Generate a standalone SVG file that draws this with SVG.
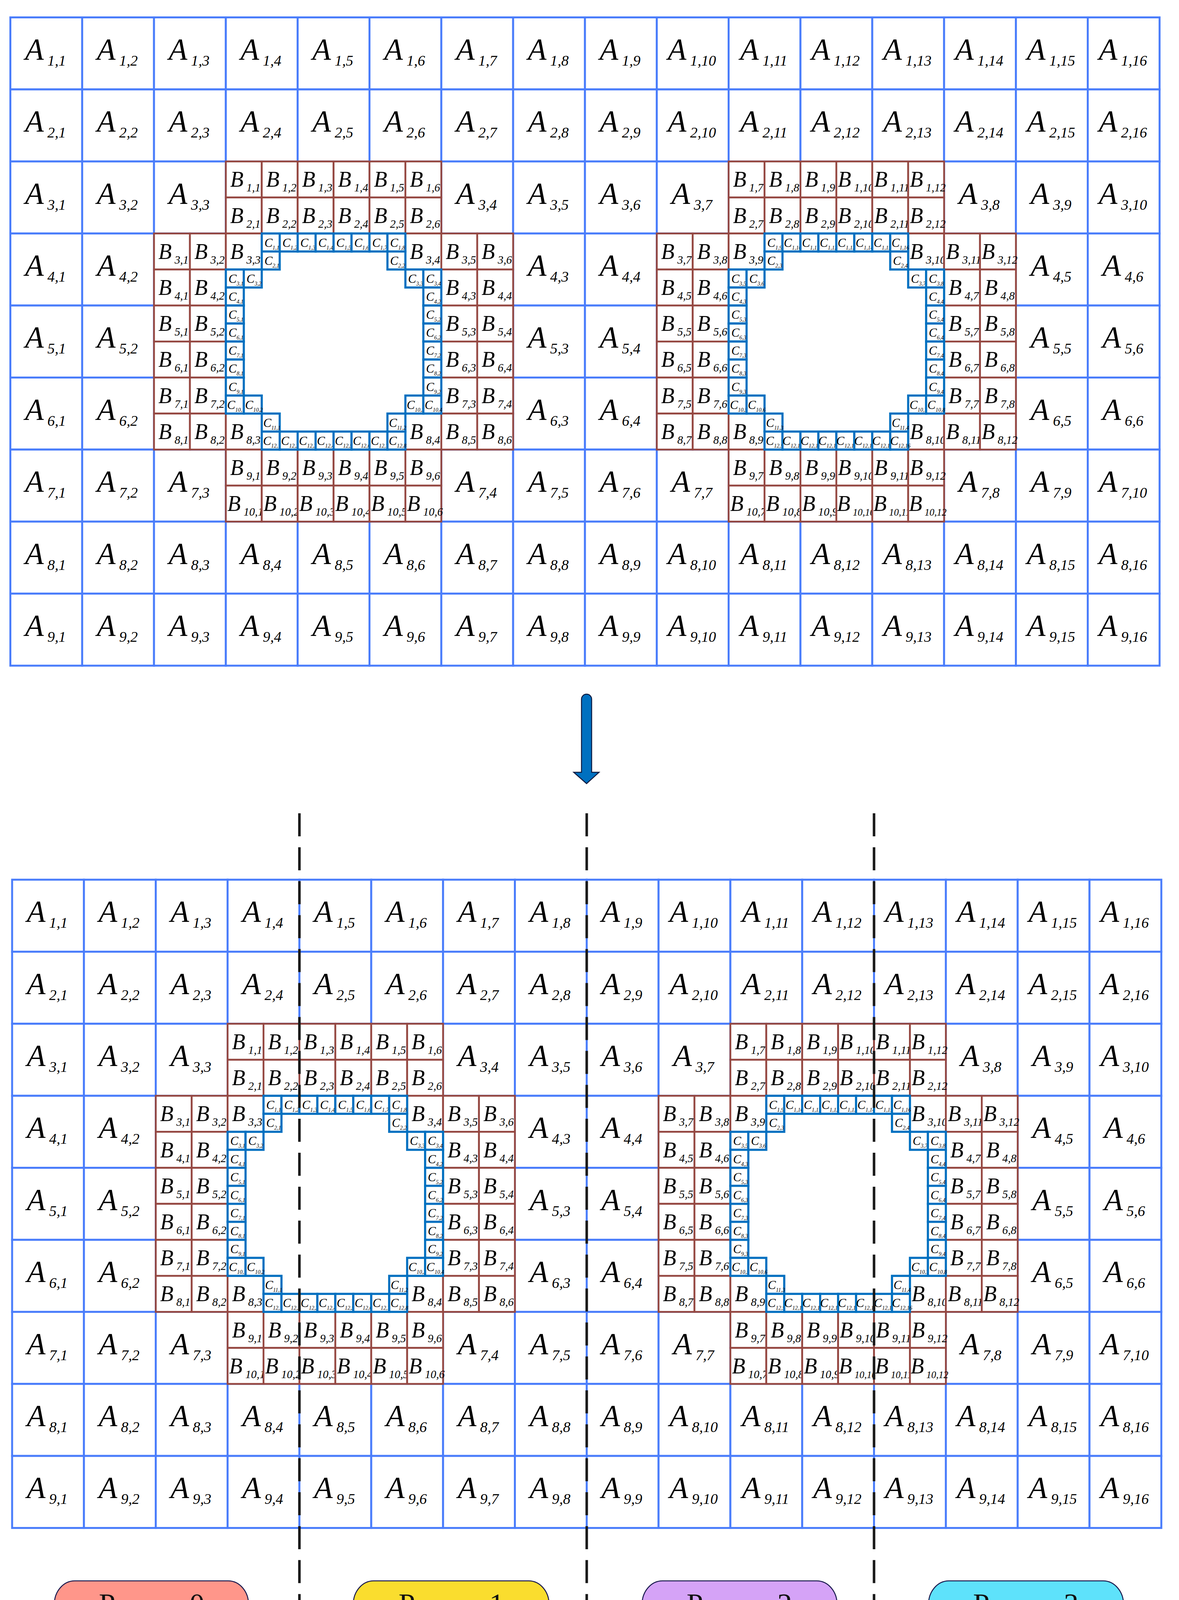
<svg xmlns="http://www.w3.org/2000/svg" width="3017" height="4206" viewBox="0 0 3017 4206">
<style>
.A rect{fill:#fff;stroke:#4a7dfb;stroke-width:5;width:184px;height:184px}
.A text{font-size:78px}
.A tspan{font-size:38px;baseline-shift:-16px}
.B rect{fill:#fff;stroke:#954842;stroke-width:4.6;width:92px;height:92px}
.B text{font-size:56px}
.B tspan{font-size:29px;baseline-shift:-12px}
.B tspan.l{font-size:25px}
.C rect{fill:#fff;stroke:#0070c0;stroke-width:5.5;width:46px;height:46px}
.C text{font-size:31px}
.C tspan{font-size:14px;baseline-shift:-7px}
.A text,.B text,.C text{font-family:"Liberation Serif","Times New Roman",serif;font-style:italic;text-anchor:middle;fill:#000}
.dash{stroke:#1a1a1a;stroke-width:6.5;stroke-dasharray:59 27.9;fill:none}
.pill rect{stroke:#1b1b4f;stroke-width:2.5}
.pill text{font-family:"Liberation Serif","Times New Roman",serif;font-size:76px;text-anchor:middle;fill:#111}
</style>
<rect width="3017" height="4206" fill="#fff"/>

<g id="top" transform="translate(26.5 44.5) scale(0.99891 1.00217)">
<g id="top-a" class="A">
<g id="tA1_1"><rect x="0" y="0"/><text x="90" y="107">A<tspan> 1,1</tspan></text></g>
<g id="tA1_2"><rect x="184" y="0"/><text x="274" y="107">A<tspan> 1,2</tspan></text></g>
<g id="tA1_3"><rect x="368" y="0"/><text x="458" y="107">A<tspan> 1,3</tspan></text></g>
<g id="tA1_4"><rect x="552" y="0"/><text x="642" y="107">A<tspan> 1,4</tspan></text></g>
<g id="tA1_5"><rect x="736" y="0"/><text x="826" y="107">A<tspan> 1,5</tspan></text></g>
<g id="tA1_6"><rect x="920" y="0"/><text x="1010" y="107">A<tspan> 1,6</tspan></text></g>
<g id="tA1_7"><rect x="1104" y="0"/><text x="1194" y="107">A<tspan> 1,7</tspan></text></g>
<g id="tA1_8"><rect x="1288" y="0"/><text x="1378" y="107">A<tspan> 1,8</tspan></text></g>
<g id="tA1_9"><rect x="1472" y="0"/><text x="1562" y="107">A<tspan> 1,9</tspan></text></g>
<g id="tA1_10"><rect x="1656" y="0"/><text x="1746" y="107">A<tspan> 1,10</tspan></text></g>
<g id="tA1_11"><rect x="1840" y="0"/><text x="1930" y="107">A<tspan> 1,11</tspan></text></g>
<g id="tA1_12"><rect x="2024" y="0"/><text x="2114" y="107">A<tspan> 1,12</tspan></text></g>
<g id="tA1_13"><rect x="2208" y="0"/><text x="2298" y="107">A<tspan> 1,13</tspan></text></g>
<g id="tA1_14"><rect x="2392" y="0"/><text x="2482" y="107">A<tspan> 1,14</tspan></text></g>
<g id="tA1_15"><rect x="2576" y="0"/><text x="2666" y="107">A<tspan> 1,15</tspan></text></g>
<g id="tA1_16"><rect x="2760" y="0"/><text x="2850" y="107">A<tspan> 1,16</tspan></text></g>
<g id="tA2_1"><rect x="0" y="184"/><text x="90" y="291">A<tspan> 2,1</tspan></text></g>
<g id="tA2_2"><rect x="184" y="184"/><text x="274" y="291">A<tspan> 2,2</tspan></text></g>
<g id="tA2_3"><rect x="368" y="184"/><text x="458" y="291">A<tspan> 2,3</tspan></text></g>
<g id="tA2_4"><rect x="552" y="184"/><text x="642" y="291">A<tspan> 2,4</tspan></text></g>
<g id="tA2_5"><rect x="736" y="184"/><text x="826" y="291">A<tspan> 2,5</tspan></text></g>
<g id="tA2_6"><rect x="920" y="184"/><text x="1010" y="291">A<tspan> 2,6</tspan></text></g>
<g id="tA2_7"><rect x="1104" y="184"/><text x="1194" y="291">A<tspan> 2,7</tspan></text></g>
<g id="tA2_8"><rect x="1288" y="184"/><text x="1378" y="291">A<tspan> 2,8</tspan></text></g>
<g id="tA2_9"><rect x="1472" y="184"/><text x="1562" y="291">A<tspan> 2,9</tspan></text></g>
<g id="tA2_10"><rect x="1656" y="184"/><text x="1746" y="291">A<tspan> 2,10</tspan></text></g>
<g id="tA2_11"><rect x="1840" y="184"/><text x="1930" y="291">A<tspan> 2,11</tspan></text></g>
<g id="tA2_12"><rect x="2024" y="184"/><text x="2114" y="291">A<tspan> 2,12</tspan></text></g>
<g id="tA2_13"><rect x="2208" y="184"/><text x="2298" y="291">A<tspan> 2,13</tspan></text></g>
<g id="tA2_14"><rect x="2392" y="184"/><text x="2482" y="291">A<tspan> 2,14</tspan></text></g>
<g id="tA2_15"><rect x="2576" y="184"/><text x="2666" y="291">A<tspan> 2,15</tspan></text></g>
<g id="tA2_16"><rect x="2760" y="184"/><text x="2850" y="291">A<tspan> 2,16</tspan></text></g>
<g id="tA3_1"><rect x="0" y="368"/><text x="90" y="475">A<tspan> 3,1</tspan></text></g>
<g id="tA3_2"><rect x="184" y="368"/><text x="274" y="475">A<tspan> 3,2</tspan></text></g>
<g id="tA3_3"><rect x="368" y="368"/><text x="458" y="475">A<tspan> 3,3</tspan></text></g>
<g id="tA3_4"><rect x="1104" y="368"/><text x="1194" y="475">A<tspan> 3,4</tspan></text></g>
<g id="tA3_5"><rect x="1288" y="368"/><text x="1378" y="475">A<tspan> 3,5</tspan></text></g>
<g id="tA3_6"><rect x="1472" y="368"/><text x="1562" y="475">A<tspan> 3,6</tspan></text></g>
<g id="tA3_7"><rect x="1656" y="368"/><text x="1746" y="475">A<tspan> 3,7</tspan></text></g>
<g id="tA3_8"><rect x="2392" y="368"/><text x="2482" y="475">A<tspan> 3,8</tspan></text></g>
<g id="tA3_9"><rect x="2576" y="368"/><text x="2666" y="475">A<tspan> 3,9</tspan></text></g>
<g id="tA3_10"><rect x="2760" y="368"/><text x="2850" y="475">A<tspan> 3,10</tspan></text></g>
<g id="tA4_1"><rect x="0" y="552"/><text x="90" y="659">A<tspan> 4,1</tspan></text></g>
<g id="tA4_2"><rect x="184" y="552"/><text x="274" y="659">A<tspan> 4,2</tspan></text></g>
<g id="tA4_3"><rect x="1288" y="552"/><text x="1378" y="659">A<tspan> 4,3</tspan></text></g>
<g id="tA4_4"><rect x="1472" y="552"/><text x="1562" y="659">A<tspan> 4,4</tspan></text></g>
<g id="tA4_5"><rect x="2576" y="552"/><text x="2666" y="659">A<tspan> 4,5</tspan></text></g>
<g id="tA4_6"><rect x="2760" y="552"/><text x="2850" y="659">A<tspan> 4,6</tspan></text></g>
<g id="tA5_1"><rect x="0" y="736"/><text x="90" y="843">A<tspan> 5,1</tspan></text></g>
<g id="tA5_2"><rect x="184" y="736"/><text x="274" y="843">A<tspan> 5,2</tspan></text></g>
<g id="tA5_3"><rect x="1288" y="736"/><text x="1378" y="843">A<tspan> 5,3</tspan></text></g>
<g id="tA5_4"><rect x="1472" y="736"/><text x="1562" y="843">A<tspan> 5,4</tspan></text></g>
<g id="tA5_5"><rect x="2576" y="736"/><text x="2666" y="843">A<tspan> 5,5</tspan></text></g>
<g id="tA5_6"><rect x="2760" y="736"/><text x="2850" y="843">A<tspan> 5,6</tspan></text></g>
<g id="tA6_1"><rect x="0" y="920"/><text x="90" y="1027">A<tspan> 6,1</tspan></text></g>
<g id="tA6_2"><rect x="184" y="920"/><text x="274" y="1027">A<tspan> 6,2</tspan></text></g>
<g id="tA6_3"><rect x="1288" y="920"/><text x="1378" y="1027">A<tspan> 6,3</tspan></text></g>
<g id="tA6_4"><rect x="1472" y="920"/><text x="1562" y="1027">A<tspan> 6,4</tspan></text></g>
<g id="tA6_5"><rect x="2576" y="920"/><text x="2666" y="1027">A<tspan> 6,5</tspan></text></g>
<g id="tA6_6"><rect x="2760" y="920"/><text x="2850" y="1027">A<tspan> 6,6</tspan></text></g>
<g id="tA7_1"><rect x="0" y="1104"/><text x="90" y="1211">A<tspan> 7,1</tspan></text></g>
<g id="tA7_2"><rect x="184" y="1104"/><text x="274" y="1211">A<tspan> 7,2</tspan></text></g>
<g id="tA7_3"><rect x="368" y="1104"/><text x="458" y="1211">A<tspan> 7,3</tspan></text></g>
<g id="tA7_4"><rect x="1104" y="1104"/><text x="1194" y="1211">A<tspan> 7,4</tspan></text></g>
<g id="tA7_5"><rect x="1288" y="1104"/><text x="1378" y="1211">A<tspan> 7,5</tspan></text></g>
<g id="tA7_6"><rect x="1472" y="1104"/><text x="1562" y="1211">A<tspan> 7,6</tspan></text></g>
<g id="tA7_7"><rect x="1656" y="1104"/><text x="1746" y="1211">A<tspan> 7,7</tspan></text></g>
<g id="tA7_8"><rect x="2392" y="1104"/><text x="2482" y="1211">A<tspan> 7,8</tspan></text></g>
<g id="tA7_9"><rect x="2576" y="1104"/><text x="2666" y="1211">A<tspan> 7,9</tspan></text></g>
<g id="tA7_10"><rect x="2760" y="1104"/><text x="2850" y="1211">A<tspan> 7,10</tspan></text></g>
<g id="tA8_1"><rect x="0" y="1288"/><text x="90" y="1395">A<tspan> 8,1</tspan></text></g>
<g id="tA8_2"><rect x="184" y="1288"/><text x="274" y="1395">A<tspan> 8,2</tspan></text></g>
<g id="tA8_3"><rect x="368" y="1288"/><text x="458" y="1395">A<tspan> 8,3</tspan></text></g>
<g id="tA8_4"><rect x="552" y="1288"/><text x="642" y="1395">A<tspan> 8,4</tspan></text></g>
<g id="tA8_5"><rect x="736" y="1288"/><text x="826" y="1395">A<tspan> 8,5</tspan></text></g>
<g id="tA8_6"><rect x="920" y="1288"/><text x="1010" y="1395">A<tspan> 8,6</tspan></text></g>
<g id="tA8_7"><rect x="1104" y="1288"/><text x="1194" y="1395">A<tspan> 8,7</tspan></text></g>
<g id="tA8_8"><rect x="1288" y="1288"/><text x="1378" y="1395">A<tspan> 8,8</tspan></text></g>
<g id="tA8_9"><rect x="1472" y="1288"/><text x="1562" y="1395">A<tspan> 8,9</tspan></text></g>
<g id="tA8_10"><rect x="1656" y="1288"/><text x="1746" y="1395">A<tspan> 8,10</tspan></text></g>
<g id="tA8_11"><rect x="1840" y="1288"/><text x="1930" y="1395">A<tspan> 8,11</tspan></text></g>
<g id="tA8_12"><rect x="2024" y="1288"/><text x="2114" y="1395">A<tspan> 8,12</tspan></text></g>
<g id="tA8_13"><rect x="2208" y="1288"/><text x="2298" y="1395">A<tspan> 8,13</tspan></text></g>
<g id="tA8_14"><rect x="2392" y="1288"/><text x="2482" y="1395">A<tspan> 8,14</tspan></text></g>
<g id="tA8_15"><rect x="2576" y="1288"/><text x="2666" y="1395">A<tspan> 8,15</tspan></text></g>
<g id="tA8_16"><rect x="2760" y="1288"/><text x="2850" y="1395">A<tspan> 8,16</tspan></text></g>
<g id="tA9_1"><rect x="0" y="1472"/><text x="90" y="1579">A<tspan> 9,1</tspan></text></g>
<g id="tA9_2"><rect x="184" y="1472"/><text x="274" y="1579">A<tspan> 9,2</tspan></text></g>
<g id="tA9_3"><rect x="368" y="1472"/><text x="458" y="1579">A<tspan> 9,3</tspan></text></g>
<g id="tA9_4"><rect x="552" y="1472"/><text x="642" y="1579">A<tspan> 9,4</tspan></text></g>
<g id="tA9_5"><rect x="736" y="1472"/><text x="826" y="1579">A<tspan> 9,5</tspan></text></g>
<g id="tA9_6"><rect x="920" y="1472"/><text x="1010" y="1579">A<tspan> 9,6</tspan></text></g>
<g id="tA9_7"><rect x="1104" y="1472"/><text x="1194" y="1579">A<tspan> 9,7</tspan></text></g>
<g id="tA9_8"><rect x="1288" y="1472"/><text x="1378" y="1579">A<tspan> 9,8</tspan></text></g>
<g id="tA9_9"><rect x="1472" y="1472"/><text x="1562" y="1579">A<tspan> 9,9</tspan></text></g>
<g id="tA9_10"><rect x="1656" y="1472"/><text x="1746" y="1579">A<tspan> 9,10</tspan></text></g>
<g id="tA9_11"><rect x="1840" y="1472"/><text x="1930" y="1579">A<tspan> 9,11</tspan></text></g>
<g id="tA9_12"><rect x="2024" y="1472"/><text x="2114" y="1579">A<tspan> 9,12</tspan></text></g>
<g id="tA9_13"><rect x="2208" y="1472"/><text x="2298" y="1579">A<tspan> 9,13</tspan></text></g>
<g id="tA9_14"><rect x="2392" y="1472"/><text x="2482" y="1579">A<tspan> 9,14</tspan></text></g>
<g id="tA9_15"><rect x="2576" y="1472"/><text x="2666" y="1579">A<tspan> 9,15</tspan></text></g>
<g id="tA9_16"><rect x="2760" y="1472"/><text x="2850" y="1579">A<tspan> 9,16</tspan></text></g>
</g>
<g id="top-h1" transform="translate(368 368)">
<g class="B">
<g id="tB1_1"><rect x="184" y="0"/><text x="234" y="65">B<tspan> 1,1</tspan></text></g>
<g id="tB1_2"><rect x="276" y="0"/><text x="326" y="65">B<tspan> 1,2</tspan></text></g>
<g id="tB1_3"><rect x="368" y="0"/><text x="418" y="65">B<tspan> 1,3</tspan></text></g>
<g id="tB1_4"><rect x="460" y="0"/><text x="510" y="65">B<tspan> 1,4</tspan></text></g>
<g id="tB1_5"><rect x="552" y="0"/><text x="602" y="65">B<tspan> 1,5</tspan></text></g>
<g id="tB1_6"><rect x="644" y="0"/><text x="694" y="65">B<tspan> 1,6</tspan></text></g>
<g id="tB2_1"><rect x="184" y="92"/><text x="234" y="157">B<tspan> 2,1</tspan></text></g>
<g id="tB2_2"><rect x="276" y="92"/><text x="326" y="157">B<tspan> 2,2</tspan></text></g>
<g id="tB2_3"><rect x="368" y="92"/><text x="418" y="157">B<tspan> 2,3</tspan></text></g>
<g id="tB2_4"><rect x="460" y="92"/><text x="510" y="157">B<tspan> 2,4</tspan></text></g>
<g id="tB2_5"><rect x="552" y="92"/><text x="602" y="157">B<tspan> 2,5</tspan></text></g>
<g id="tB2_6"><rect x="644" y="92"/><text x="694" y="157">B<tspan> 2,6</tspan></text></g>
<g id="tB3_1"><rect x="0" y="184"/><text x="50" y="249">B<tspan> 3,1</tspan></text></g>
<g id="tB3_2"><rect x="92" y="184"/><text x="142" y="249">B<tspan> 3,2</tspan></text></g>
<g id="tB3_3"><rect x="184" y="184"/><text x="234" y="249">B<tspan> 3,3</tspan></text></g>
<g id="tB3_4"><rect x="644" y="184"/><text x="694" y="249">B<tspan> 3,4</tspan></text></g>
<g id="tB3_5"><rect x="736" y="184"/><text x="786" y="249">B<tspan> 3,5</tspan></text></g>
<g id="tB3_6"><rect x="828" y="184"/><text x="878" y="249">B<tspan> 3,6</tspan></text></g>
<g id="tB4_1"><rect x="0" y="276"/><text x="50" y="341">B<tspan> 4,1</tspan></text></g>
<g id="tB4_2"><rect x="92" y="276"/><text x="142" y="341">B<tspan> 4,2</tspan></text></g>
<g id="tB4_3"><rect x="736" y="276"/><text x="786" y="341">B<tspan> 4,3</tspan></text></g>
<g id="tB4_4"><rect x="828" y="276"/><text x="878" y="341">B<tspan> 4,4</tspan></text></g>
<g id="tB5_1"><rect x="0" y="368"/><text x="50" y="433">B<tspan> 5,1</tspan></text></g>
<g id="tB5_2"><rect x="92" y="368"/><text x="142" y="433">B<tspan> 5,2</tspan></text></g>
<g id="tB5_3"><rect x="736" y="368"/><text x="786" y="433">B<tspan> 5,3</tspan></text></g>
<g id="tB5_4"><rect x="828" y="368"/><text x="878" y="433">B<tspan> 5,4</tspan></text></g>
<g id="tB6_1"><rect x="0" y="460"/><text x="50" y="525">B<tspan> 6,1</tspan></text></g>
<g id="tB6_2"><rect x="92" y="460"/><text x="142" y="525">B<tspan> 6,2</tspan></text></g>
<g id="tB6_3"><rect x="736" y="460"/><text x="786" y="525">B<tspan> 6,3</tspan></text></g>
<g id="tB6_4"><rect x="828" y="460"/><text x="878" y="525">B<tspan> 6,4</tspan></text></g>
<g id="tB7_1"><rect x="0" y="552"/><text x="50" y="617">B<tspan> 7,1</tspan></text></g>
<g id="tB7_2"><rect x="92" y="552"/><text x="142" y="617">B<tspan> 7,2</tspan></text></g>
<g id="tB7_3"><rect x="736" y="552"/><text x="786" y="617">B<tspan> 7,3</tspan></text></g>
<g id="tB7_4"><rect x="828" y="552"/><text x="878" y="617">B<tspan> 7,4</tspan></text></g>
<g id="tB8_1"><rect x="0" y="644"/><text x="50" y="709">B<tspan> 8,1</tspan></text></g>
<g id="tB8_2"><rect x="92" y="644"/><text x="142" y="709">B<tspan> 8,2</tspan></text></g>
<g id="tB8_3"><rect x="184" y="644"/><text x="234" y="709">B<tspan> 8,3</tspan></text></g>
<g id="tB8_4"><rect x="644" y="644"/><text x="694" y="709">B<tspan> 8,4</tspan></text></g>
<g id="tB8_5"><rect x="736" y="644"/><text x="786" y="709">B<tspan> 8,5</tspan></text></g>
<g id="tB8_6"><rect x="828" y="644"/><text x="878" y="709">B<tspan> 8,6</tspan></text></g>
<g id="tB9_1"><rect x="184" y="736"/><text x="234" y="801">B<tspan> 9,1</tspan></text></g>
<g id="tB9_2"><rect x="276" y="736"/><text x="326" y="801">B<tspan> 9,2</tspan></text></g>
<g id="tB9_3"><rect x="368" y="736"/><text x="418" y="801">B<tspan> 9,3</tspan></text></g>
<g id="tB9_4"><rect x="460" y="736"/><text x="510" y="801">B<tspan> 9,4</tspan></text></g>
<g id="tB9_5"><rect x="552" y="736"/><text x="602" y="801">B<tspan> 9,5</tspan></text></g>
<g id="tB9_6"><rect x="644" y="736"/><text x="694" y="801">B<tspan> 9,6</tspan></text></g>
<g id="tB10_1"><rect x="184" y="828"/><text x="234" y="893">B<tspan> 10,1</tspan></text></g>
<g id="tB10_2"><rect x="276" y="828"/><text x="326" y="893">B<tspan> 10,2</tspan></text></g>
<g id="tB10_3"><rect x="368" y="828"/><text x="418" y="893">B<tspan> 10,3</tspan></text></g>
<g id="tB10_4"><rect x="460" y="828"/><text x="510" y="893">B<tspan> 10,4</tspan></text></g>
<g id="tB10_5"><rect x="552" y="828"/><text x="602" y="893">B<tspan> 10,5</tspan></text></g>
<g id="tB10_6"><rect x="644" y="828"/><text x="694" y="893">B<tspan> 10,6</tspan></text></g>
</g>
<g class="C">
<g id="tC1_1"><rect x="276" y="184"/><text x="302" y="218">C<tspan>1,1</tspan></text></g>
<g id="tC1_2"><rect x="322" y="184"/><text x="348" y="218">C<tspan>1,2</tspan></text></g>
<g id="tC1_3"><rect x="368" y="184"/><text x="394" y="218">C<tspan>1,3</tspan></text></g>
<g id="tC1_4"><rect x="414" y="184"/><text x="440" y="218">C<tspan>1,4</tspan></text></g>
<g id="tC1_5"><rect x="460" y="184"/><text x="486" y="218">C<tspan>1,5</tspan></text></g>
<g id="tC1_6"><rect x="506" y="184"/><text x="532" y="218">C<tspan>1,6</tspan></text></g>
<g id="tC1_7"><rect x="552" y="184"/><text x="578" y="218">C<tspan>1,7</tspan></text></g>
<g id="tC1_8"><rect x="598" y="184"/><text x="624" y="218">C<tspan>1,8</tspan></text></g>
<g id="tC2_1"><rect x="276" y="230"/><text x="302" y="264">C<tspan>2,1</tspan></text></g>
<g id="tC2_2"><rect x="598" y="230"/><text x="624" y="264">C<tspan>2,2</tspan></text></g>
<g id="tC3_1"><rect x="184" y="276"/><text x="210" y="310">C<tspan>3,1</tspan></text></g>
<g id="tC3_2"><rect x="230" y="276"/><text x="256" y="310">C<tspan>3,2</tspan></text></g>
<g id="tC3_3"><rect x="644" y="276"/><text x="670" y="310">C<tspan>3,3</tspan></text></g>
<g id="tC3_4"><rect x="690" y="276"/><text x="716" y="310">C<tspan>3,4</tspan></text></g>
<g id="tC4_1"><rect x="184" y="322"/><text x="210" y="356">C<tspan>4,1</tspan></text></g>
<g id="tC4_2"><rect x="690" y="322"/><text x="716" y="356">C<tspan>4,2</tspan></text></g>
<g id="tC5_1"><rect x="184" y="368"/><text x="210" y="402">C<tspan>5,1</tspan></text></g>
<g id="tC5_2"><rect x="690" y="368"/><text x="716" y="402">C<tspan>5,2</tspan></text></g>
<g id="tC6_1"><rect x="184" y="414"/><text x="210" y="448">C<tspan>6,1</tspan></text></g>
<g id="tC6_2"><rect x="690" y="414"/><text x="716" y="448">C<tspan>6,2</tspan></text></g>
<g id="tC7_1"><rect x="184" y="460"/><text x="210" y="494">C<tspan>7,1</tspan></text></g>
<g id="tC7_2"><rect x="690" y="460"/><text x="716" y="494">C<tspan>7,2</tspan></text></g>
<g id="tC8_1"><rect x="184" y="506"/><text x="210" y="540">C<tspan>8,1</tspan></text></g>
<g id="tC8_2"><rect x="690" y="506"/><text x="716" y="540">C<tspan>8,2</tspan></text></g>
<g id="tC9_1"><rect x="184" y="552"/><text x="210" y="586">C<tspan>9,1</tspan></text></g>
<g id="tC9_2"><rect x="690" y="552"/><text x="716" y="586">C<tspan>9,2</tspan></text></g>
<g id="tC10_1"><rect x="184" y="598"/><text x="210" y="632">C<tspan>10,1</tspan></text></g>
<g id="tC10_2"><rect x="230" y="598"/><text x="256" y="632">C<tspan>10,2</tspan></text></g>
<g id="tC10_3"><rect x="644" y="598"/><text x="670" y="632">C<tspan>10,3</tspan></text></g>
<g id="tC10_4"><rect x="690" y="598"/><text x="716" y="632">C<tspan>10,4</tspan></text></g>
<g id="tC11_1"><rect x="276" y="644"/><text x="302" y="678">C<tspan>11,1</tspan></text></g>
<g id="tC11_2"><rect x="598" y="644"/><text x="624" y="678">C<tspan>11,2</tspan></text></g>
<g id="tC12_1"><rect x="276" y="690"/><text x="302" y="724">C<tspan>12,1</tspan></text></g>
<g id="tC12_2"><rect x="322" y="690"/><text x="348" y="724">C<tspan>12,2</tspan></text></g>
<g id="tC12_3"><rect x="368" y="690"/><text x="394" y="724">C<tspan>12,3</tspan></text></g>
<g id="tC12_4"><rect x="414" y="690"/><text x="440" y="724">C<tspan>12,4</tspan></text></g>
<g id="tC12_5"><rect x="460" y="690"/><text x="486" y="724">C<tspan>12,5</tspan></text></g>
<g id="tC12_6"><rect x="506" y="690"/><text x="532" y="724">C<tspan>12,6</tspan></text></g>
<g id="tC12_7"><rect x="552" y="690"/><text x="578" y="724">C<tspan>12,7</tspan></text></g>
<g id="tC12_8"><rect x="598" y="690"/><text x="624" y="724">C<tspan>12,8</tspan></text></g>
</g>
</g>
<g id="top-h2" transform="translate(1656 368)">
<g class="B">
<g id="tB1_7"><rect x="184" y="0"/><text x="234" y="65">B<tspan> 1,7</tspan></text></g>
<g id="tB1_8"><rect x="276" y="0"/><text x="326" y="65">B<tspan> 1,8</tspan></text></g>
<g id="tB1_9"><rect x="368" y="0"/><text x="418" y="65">B<tspan> 1,9</tspan></text></g>
<g id="tB1_10"><rect x="460" y="0"/><text x="510" y="65">B<tspan> 1,10</tspan></text></g>
<g id="tB1_11"><rect x="552" y="0"/><text x="602" y="65">B<tspan> 1,11</tspan></text></g>
<g id="tB1_12"><rect x="644" y="0"/><text x="694" y="65">B<tspan> 1,12</tspan></text></g>
<g id="tB2_7"><rect x="184" y="92"/><text x="234" y="157">B<tspan> 2,7</tspan></text></g>
<g id="tB2_8"><rect x="276" y="92"/><text x="326" y="157">B<tspan> 2,8</tspan></text></g>
<g id="tB2_9"><rect x="368" y="92"/><text x="418" y="157">B<tspan> 2,9</tspan></text></g>
<g id="tB2_10"><rect x="460" y="92"/><text x="510" y="157">B<tspan> 2,10</tspan></text></g>
<g id="tB2_11"><rect x="552" y="92"/><text x="602" y="157">B<tspan> 2,11</tspan></text></g>
<g id="tB2_12"><rect x="644" y="92"/><text x="694" y="157">B<tspan> 2,12</tspan></text></g>
<g id="tB3_7"><rect x="0" y="184"/><text x="50" y="249">B<tspan> 3,7</tspan></text></g>
<g id="tB3_8"><rect x="92" y="184"/><text x="142" y="249">B<tspan> 3,8</tspan></text></g>
<g id="tB3_9"><rect x="184" y="184"/><text x="234" y="249">B<tspan> 3,9</tspan></text></g>
<g id="tB3_10"><rect x="644" y="184"/><text x="694" y="249">B<tspan> 3,10</tspan></text></g>
<g id="tB3_11"><rect x="736" y="184"/><text x="786" y="249">B<tspan> 3,11</tspan></text></g>
<g id="tB3_12"><rect x="828" y="184"/><text x="878" y="249">B<tspan> 3,12</tspan></text></g>
<g id="tB4_5"><rect x="0" y="276"/><text x="50" y="341">B<tspan> 4,5</tspan></text></g>
<g id="tB4_6"><rect x="92" y="276"/><text x="142" y="341">B<tspan> 4,6</tspan></text></g>
<g id="tB4_7"><rect x="736" y="276"/><text x="786" y="341">B<tspan> 4,7</tspan></text></g>
<g id="tB4_8"><rect x="828" y="276"/><text x="878" y="341">B<tspan> 4,8</tspan></text></g>
<g id="tB5_5"><rect x="0" y="368"/><text x="50" y="433">B<tspan> 5,5</tspan></text></g>
<g id="tB5_6"><rect x="92" y="368"/><text x="142" y="433">B<tspan> 5,6</tspan></text></g>
<g id="tB5_7"><rect x="736" y="368"/><text x="786" y="433">B<tspan> 5,7</tspan></text></g>
<g id="tB5_8"><rect x="828" y="368"/><text x="878" y="433">B<tspan> 5,8</tspan></text></g>
<g id="tB6_5"><rect x="0" y="460"/><text x="50" y="525">B<tspan> 6,5</tspan></text></g>
<g id="tB6_6"><rect x="92" y="460"/><text x="142" y="525">B<tspan> 6,6</tspan></text></g>
<g id="tB6_7"><rect x="736" y="460"/><text x="786" y="525">B<tspan> 6,7</tspan></text></g>
<g id="tB6_8"><rect x="828" y="460"/><text x="878" y="525">B<tspan> 6,8</tspan></text></g>
<g id="tB7_5"><rect x="0" y="552"/><text x="50" y="617">B<tspan> 7,5</tspan></text></g>
<g id="tB7_6"><rect x="92" y="552"/><text x="142" y="617">B<tspan> 7,6</tspan></text></g>
<g id="tB7_7"><rect x="736" y="552"/><text x="786" y="617">B<tspan> 7,7</tspan></text></g>
<g id="tB7_8"><rect x="828" y="552"/><text x="878" y="617">B<tspan> 7,8</tspan></text></g>
<g id="tB8_7"><rect x="0" y="644"/><text x="50" y="709">B<tspan> 8,7</tspan></text></g>
<g id="tB8_8"><rect x="92" y="644"/><text x="142" y="709">B<tspan> 8,8</tspan></text></g>
<g id="tB8_9"><rect x="184" y="644"/><text x="234" y="709">B<tspan> 8,9</tspan></text></g>
<g id="tB8_10"><rect x="644" y="644"/><text x="694" y="709">B<tspan> 8,10</tspan></text></g>
<g id="tB8_11"><rect x="736" y="644"/><text x="786" y="709">B<tspan> 8,11</tspan></text></g>
<g id="tB8_12"><rect x="828" y="644"/><text x="878" y="709">B<tspan> 8,12</tspan></text></g>
<g id="tB9_7"><rect x="184" y="736"/><text x="234" y="801">B<tspan> 9,7</tspan></text></g>
<g id="tB9_8"><rect x="276" y="736"/><text x="326" y="801">B<tspan> 9,8</tspan></text></g>
<g id="tB9_9"><rect x="368" y="736"/><text x="418" y="801">B<tspan> 9,9</tspan></text></g>
<g id="tB9_10"><rect x="460" y="736"/><text x="510" y="801">B<tspan> 9,10</tspan></text></g>
<g id="tB9_11"><rect x="552" y="736"/><text x="602" y="801">B<tspan> 9,11</tspan></text></g>
<g id="tB9_12"><rect x="644" y="736"/><text x="694" y="801">B<tspan> 9,12</tspan></text></g>
<g id="tB10_7"><rect x="184" y="828"/><text x="234" y="893">B<tspan> 10,7</tspan></text></g>
<g id="tB10_8"><rect x="276" y="828"/><text x="326" y="893">B<tspan> 10,8</tspan></text></g>
<g id="tB10_9"><rect x="368" y="828"/><text x="418" y="893">B<tspan> 10,9</tspan></text></g>
<g id="tB10_10"><rect x="460" y="828"/><text x="510" y="893">B<tspan class="l"> 10,10</tspan></text></g>
<g id="tB10_11"><rect x="552" y="828"/><text x="602" y="893">B<tspan class="l"> 10,11</tspan></text></g>
<g id="tB10_12"><rect x="644" y="828"/><text x="694" y="893">B<tspan class="l"> 10,12</tspan></text></g>
</g>
<g class="C">
<g id="tC1_9"><rect x="276" y="184"/><text x="302" y="218">C<tspan>1,9</tspan></text></g>
<g id="tC1_10"><rect x="322" y="184"/><text x="348" y="218">C<tspan>1,10</tspan></text></g>
<g id="tC1_11"><rect x="368" y="184"/><text x="394" y="218">C<tspan>1,11</tspan></text></g>
<g id="tC1_12"><rect x="414" y="184"/><text x="440" y="218">C<tspan>1,12</tspan></text></g>
<g id="tC1_13"><rect x="460" y="184"/><text x="486" y="218">C<tspan>1,13</tspan></text></g>
<g id="tC1_14"><rect x="506" y="184"/><text x="532" y="218">C<tspan>1,14</tspan></text></g>
<g id="tC1_15"><rect x="552" y="184"/><text x="578" y="218">C<tspan>1,15</tspan></text></g>
<g id="tC1_16"><rect x="598" y="184"/><text x="624" y="218">C<tspan>1,16</tspan></text></g>
<g id="tC2_3"><rect x="276" y="230"/><text x="302" y="264">C<tspan>2,3</tspan></text></g>
<g id="tC2_4"><rect x="598" y="230"/><text x="624" y="264">C<tspan>2,4</tspan></text></g>
<g id="tC3_5"><rect x="184" y="276"/><text x="210" y="310">C<tspan>3,5</tspan></text></g>
<g id="tC3_6"><rect x="230" y="276"/><text x="256" y="310">C<tspan>3,6</tspan></text></g>
<g id="tC3_7"><rect x="644" y="276"/><text x="670" y="310">C<tspan>3,7</tspan></text></g>
<g id="tC3_8"><rect x="690" y="276"/><text x="716" y="310">C<tspan>3,8</tspan></text></g>
<g id="tC4_3"><rect x="184" y="322"/><text x="210" y="356">C<tspan>4,3</tspan></text></g>
<g id="tC4_4"><rect x="690" y="322"/><text x="716" y="356">C<tspan>4,4</tspan></text></g>
<g id="tC5_3"><rect x="184" y="368"/><text x="210" y="402">C<tspan>5,3</tspan></text></g>
<g id="tC5_4"><rect x="690" y="368"/><text x="716" y="402">C<tspan>5,4</tspan></text></g>
<g id="tC6_3"><rect x="184" y="414"/><text x="210" y="448">C<tspan>6,3</tspan></text></g>
<g id="tC6_4"><rect x="690" y="414"/><text x="716" y="448">C<tspan>6,4</tspan></text></g>
<g id="tC7_3"><rect x="184" y="460"/><text x="210" y="494">C<tspan>7,3</tspan></text></g>
<g id="tC7_4"><rect x="690" y="460"/><text x="716" y="494">C<tspan>7,4</tspan></text></g>
<g id="tC8_3"><rect x="184" y="506"/><text x="210" y="540">C<tspan>8,3</tspan></text></g>
<g id="tC8_4"><rect x="690" y="506"/><text x="716" y="540">C<tspan>8,4</tspan></text></g>
<g id="tC9_3"><rect x="184" y="552"/><text x="210" y="586">C<tspan>9,3</tspan></text></g>
<g id="tC9_4"><rect x="690" y="552"/><text x="716" y="586">C<tspan>9,4</tspan></text></g>
<g id="tC10_5"><rect x="184" y="598"/><text x="210" y="632">C<tspan>10,5</tspan></text></g>
<g id="tC10_6"><rect x="230" y="598"/><text x="256" y="632">C<tspan>10,6</tspan></text></g>
<g id="tC10_7"><rect x="644" y="598"/><text x="670" y="632">C<tspan>10,7</tspan></text></g>
<g id="tC10_8"><rect x="690" y="598"/><text x="716" y="632">C<tspan>10,8</tspan></text></g>
<g id="tC11_3"><rect x="276" y="644"/><text x="302" y="678">C<tspan>11,3</tspan></text></g>
<g id="tC11_4"><rect x="598" y="644"/><text x="624" y="678">C<tspan>11,4</tspan></text></g>
<g id="tC12_9"><rect x="276" y="690"/><text x="302" y="724">C<tspan>12,9</tspan></text></g>
<g id="tC12_10"><rect x="322" y="690"/><text x="348" y="724">C<tspan>12,10</tspan></text></g>
<g id="tC12_11"><rect x="368" y="690"/><text x="394" y="724">C<tspan>12,11</tspan></text></g>
<g id="tC12_12"><rect x="414" y="690"/><text x="440" y="724">C<tspan>12,12</tspan></text></g>
<g id="tC12_13"><rect x="460" y="690"/><text x="486" y="724">C<tspan>12,13</tspan></text></g>
<g id="tC12_14"><rect x="506" y="690"/><text x="532" y="724">C<tspan>12,14</tspan></text></g>
<g id="tC12_15"><rect x="552" y="690"/><text x="578" y="724">C<tspan>12,15</tspan></text></g>
<g id="tC12_16"><rect x="598" y="690"/><text x="624" y="724">C<tspan>12,16</tspan></text></g>
</g>
</g>
</g>

<g id="bottom" transform="translate(31 2252) scale(0.99891 1.00217)">
<g id="bottom-a" class="A">
<g id="bA1_1"><rect x="0" y="0"/><text x="90" y="107">A<tspan> 1,1</tspan></text></g>
<g id="bA1_2"><rect x="184" y="0"/><text x="274" y="107">A<tspan> 1,2</tspan></text></g>
<g id="bA1_3"><rect x="368" y="0"/><text x="458" y="107">A<tspan> 1,3</tspan></text></g>
<g id="bA1_4"><rect x="552" y="0"/><text x="642" y="107">A<tspan> 1,4</tspan></text></g>
<g id="bA1_5"><rect x="736" y="0"/><text x="826" y="107">A<tspan> 1,5</tspan></text></g>
<g id="bA1_6"><rect x="920" y="0"/><text x="1010" y="107">A<tspan> 1,6</tspan></text></g>
<g id="bA1_7"><rect x="1104" y="0"/><text x="1194" y="107">A<tspan> 1,7</tspan></text></g>
<g id="bA1_8"><rect x="1288" y="0"/><text x="1378" y="107">A<tspan> 1,8</tspan></text></g>
<g id="bA1_9"><rect x="1472" y="0"/><text x="1562" y="107">A<tspan> 1,9</tspan></text></g>
<g id="bA1_10"><rect x="1656" y="0"/><text x="1746" y="107">A<tspan> 1,10</tspan></text></g>
<g id="bA1_11"><rect x="1840" y="0"/><text x="1930" y="107">A<tspan> 1,11</tspan></text></g>
<g id="bA1_12"><rect x="2024" y="0"/><text x="2114" y="107">A<tspan> 1,12</tspan></text></g>
<g id="bA1_13"><rect x="2208" y="0"/><text x="2298" y="107">A<tspan> 1,13</tspan></text></g>
<g id="bA1_14"><rect x="2392" y="0"/><text x="2482" y="107">A<tspan> 1,14</tspan></text></g>
<g id="bA1_15"><rect x="2576" y="0"/><text x="2666" y="107">A<tspan> 1,15</tspan></text></g>
<g id="bA1_16"><rect x="2760" y="0"/><text x="2850" y="107">A<tspan> 1,16</tspan></text></g>
<g id="bA2_1"><rect x="0" y="184"/><text x="90" y="291">A<tspan> 2,1</tspan></text></g>
<g id="bA2_2"><rect x="184" y="184"/><text x="274" y="291">A<tspan> 2,2</tspan></text></g>
<g id="bA2_3"><rect x="368" y="184"/><text x="458" y="291">A<tspan> 2,3</tspan></text></g>
<g id="bA2_4"><rect x="552" y="184"/><text x="642" y="291">A<tspan> 2,4</tspan></text></g>
<g id="bA2_5"><rect x="736" y="184"/><text x="826" y="291">A<tspan> 2,5</tspan></text></g>
<g id="bA2_6"><rect x="920" y="184"/><text x="1010" y="291">A<tspan> 2,6</tspan></text></g>
<g id="bA2_7"><rect x="1104" y="184"/><text x="1194" y="291">A<tspan> 2,7</tspan></text></g>
<g id="bA2_8"><rect x="1288" y="184"/><text x="1378" y="291">A<tspan> 2,8</tspan></text></g>
<g id="bA2_9"><rect x="1472" y="184"/><text x="1562" y="291">A<tspan> 2,9</tspan></text></g>
<g id="bA2_10"><rect x="1656" y="184"/><text x="1746" y="291">A<tspan> 2,10</tspan></text></g>
<g id="bA2_11"><rect x="1840" y="184"/><text x="1930" y="291">A<tspan> 2,11</tspan></text></g>
<g id="bA2_12"><rect x="2024" y="184"/><text x="2114" y="291">A<tspan> 2,12</tspan></text></g>
<g id="bA2_13"><rect x="2208" y="184"/><text x="2298" y="291">A<tspan> 2,13</tspan></text></g>
<g id="bA2_14"><rect x="2392" y="184"/><text x="2482" y="291">A<tspan> 2,14</tspan></text></g>
<g id="bA2_15"><rect x="2576" y="184"/><text x="2666" y="291">A<tspan> 2,15</tspan></text></g>
<g id="bA2_16"><rect x="2760" y="184"/><text x="2850" y="291">A<tspan> 2,16</tspan></text></g>
<g id="bA3_1"><rect x="0" y="368"/><text x="90" y="475">A<tspan> 3,1</tspan></text></g>
<g id="bA3_2"><rect x="184" y="368"/><text x="274" y="475">A<tspan> 3,2</tspan></text></g>
<g id="bA3_3"><rect x="368" y="368"/><text x="458" y="475">A<tspan> 3,3</tspan></text></g>
<g id="bA3_4"><rect x="1104" y="368"/><text x="1194" y="475">A<tspan> 3,4</tspan></text></g>
<g id="bA3_5"><rect x="1288" y="368"/><text x="1378" y="475">A<tspan> 3,5</tspan></text></g>
<g id="bA3_6"><rect x="1472" y="368"/><text x="1562" y="475">A<tspan> 3,6</tspan></text></g>
<g id="bA3_7"><rect x="1656" y="368"/><text x="1746" y="475">A<tspan> 3,7</tspan></text></g>
<g id="bA3_8"><rect x="2392" y="368"/><text x="2482" y="475">A<tspan> 3,8</tspan></text></g>
<g id="bA3_9"><rect x="2576" y="368"/><text x="2666" y="475">A<tspan> 3,9</tspan></text></g>
<g id="bA3_10"><rect x="2760" y="368"/><text x="2850" y="475">A<tspan> 3,10</tspan></text></g>
<g id="bA4_1"><rect x="0" y="552"/><text x="90" y="659">A<tspan> 4,1</tspan></text></g>
<g id="bA4_2"><rect x="184" y="552"/><text x="274" y="659">A<tspan> 4,2</tspan></text></g>
<g id="bA4_3"><rect x="1288" y="552"/><text x="1378" y="659">A<tspan> 4,3</tspan></text></g>
<g id="bA4_4"><rect x="1472" y="552"/><text x="1562" y="659">A<tspan> 4,4</tspan></text></g>
<g id="bA4_5"><rect x="2576" y="552"/><text x="2666" y="659">A<tspan> 4,5</tspan></text></g>
<g id="bA4_6"><rect x="2760" y="552"/><text x="2850" y="659">A<tspan> 4,6</tspan></text></g>
<g id="bA5_1"><rect x="0" y="736"/><text x="90" y="843">A<tspan> 5,1</tspan></text></g>
<g id="bA5_2"><rect x="184" y="736"/><text x="274" y="843">A<tspan> 5,2</tspan></text></g>
<g id="bA5_3"><rect x="1288" y="736"/><text x="1378" y="843">A<tspan> 5,3</tspan></text></g>
<g id="bA5_4"><rect x="1472" y="736"/><text x="1562" y="843">A<tspan> 5,4</tspan></text></g>
<g id="bA5_5"><rect x="2576" y="736"/><text x="2666" y="843">A<tspan> 5,5</tspan></text></g>
<g id="bA5_6"><rect x="2760" y="736"/><text x="2850" y="843">A<tspan> 5,6</tspan></text></g>
<g id="bA6_1"><rect x="0" y="920"/><text x="90" y="1027">A<tspan> 6,1</tspan></text></g>
<g id="bA6_2"><rect x="184" y="920"/><text x="274" y="1027">A<tspan> 6,2</tspan></text></g>
<g id="bA6_3"><rect x="1288" y="920"/><text x="1378" y="1027">A<tspan> 6,3</tspan></text></g>
<g id="bA6_4"><rect x="1472" y="920"/><text x="1562" y="1027">A<tspan> 6,4</tspan></text></g>
<g id="bA6_5"><rect x="2576" y="920"/><text x="2666" y="1027">A<tspan> 6,5</tspan></text></g>
<g id="bA6_6"><rect x="2760" y="920"/><text x="2850" y="1027">A<tspan> 6,6</tspan></text></g>
<g id="bA7_1"><rect x="0" y="1104"/><text x="90" y="1211">A<tspan> 7,1</tspan></text></g>
<g id="bA7_2"><rect x="184" y="1104"/><text x="274" y="1211">A<tspan> 7,2</tspan></text></g>
<g id="bA7_3"><rect x="368" y="1104"/><text x="458" y="1211">A<tspan> 7,3</tspan></text></g>
<g id="bA7_4"><rect x="1104" y="1104"/><text x="1194" y="1211">A<tspan> 7,4</tspan></text></g>
<g id="bA7_5"><rect x="1288" y="1104"/><text x="1378" y="1211">A<tspan> 7,5</tspan></text></g>
<g id="bA7_6"><rect x="1472" y="1104"/><text x="1562" y="1211">A<tspan> 7,6</tspan></text></g>
<g id="bA7_7"><rect x="1656" y="1104"/><text x="1746" y="1211">A<tspan> 7,7</tspan></text></g>
<g id="bA7_8"><rect x="2392" y="1104"/><text x="2482" y="1211">A<tspan> 7,8</tspan></text></g>
<g id="bA7_9"><rect x="2576" y="1104"/><text x="2666" y="1211">A<tspan> 7,9</tspan></text></g>
<g id="bA7_10"><rect x="2760" y="1104"/><text x="2850" y="1211">A<tspan> 7,10</tspan></text></g>
<g id="bA8_1"><rect x="0" y="1288"/><text x="90" y="1395">A<tspan> 8,1</tspan></text></g>
<g id="bA8_2"><rect x="184" y="1288"/><text x="274" y="1395">A<tspan> 8,2</tspan></text></g>
<g id="bA8_3"><rect x="368" y="1288"/><text x="458" y="1395">A<tspan> 8,3</tspan></text></g>
<g id="bA8_4"><rect x="552" y="1288"/><text x="642" y="1395">A<tspan> 8,4</tspan></text></g>
<g id="bA8_5"><rect x="736" y="1288"/><text x="826" y="1395">A<tspan> 8,5</tspan></text></g>
<g id="bA8_6"><rect x="920" y="1288"/><text x="1010" y="1395">A<tspan> 8,6</tspan></text></g>
<g id="bA8_7"><rect x="1104" y="1288"/><text x="1194" y="1395">A<tspan> 8,7</tspan></text></g>
<g id="bA8_8"><rect x="1288" y="1288"/><text x="1378" y="1395">A<tspan> 8,8</tspan></text></g>
<g id="bA8_9"><rect x="1472" y="1288"/><text x="1562" y="1395">A<tspan> 8,9</tspan></text></g>
<g id="bA8_10"><rect x="1656" y="1288"/><text x="1746" y="1395">A<tspan> 8,10</tspan></text></g>
<g id="bA8_11"><rect x="1840" y="1288"/><text x="1930" y="1395">A<tspan> 8,11</tspan></text></g>
<g id="bA8_12"><rect x="2024" y="1288"/><text x="2114" y="1395">A<tspan> 8,12</tspan></text></g>
<g id="bA8_13"><rect x="2208" y="1288"/><text x="2298" y="1395">A<tspan> 8,13</tspan></text></g>
<g id="bA8_14"><rect x="2392" y="1288"/><text x="2482" y="1395">A<tspan> 8,14</tspan></text></g>
<g id="bA8_15"><rect x="2576" y="1288"/><text x="2666" y="1395">A<tspan> 8,15</tspan></text></g>
<g id="bA8_16"><rect x="2760" y="1288"/><text x="2850" y="1395">A<tspan> 8,16</tspan></text></g>
<g id="bA9_1"><rect x="0" y="1472"/><text x="90" y="1579">A<tspan> 9,1</tspan></text></g>
<g id="bA9_2"><rect x="184" y="1472"/><text x="274" y="1579">A<tspan> 9,2</tspan></text></g>
<g id="bA9_3"><rect x="368" y="1472"/><text x="458" y="1579">A<tspan> 9,3</tspan></text></g>
<g id="bA9_4"><rect x="552" y="1472"/><text x="642" y="1579">A<tspan> 9,4</tspan></text></g>
<g id="bA9_5"><rect x="736" y="1472"/><text x="826" y="1579">A<tspan> 9,5</tspan></text></g>
<g id="bA9_6"><rect x="920" y="1472"/><text x="1010" y="1579">A<tspan> 9,6</tspan></text></g>
<g id="bA9_7"><rect x="1104" y="1472"/><text x="1194" y="1579">A<tspan> 9,7</tspan></text></g>
<g id="bA9_8"><rect x="1288" y="1472"/><text x="1378" y="1579">A<tspan> 9,8</tspan></text></g>
<g id="bA9_9"><rect x="1472" y="1472"/><text x="1562" y="1579">A<tspan> 9,9</tspan></text></g>
<g id="bA9_10"><rect x="1656" y="1472"/><text x="1746" y="1579">A<tspan> 9,10</tspan></text></g>
<g id="bA9_11"><rect x="1840" y="1472"/><text x="1930" y="1579">A<tspan> 9,11</tspan></text></g>
<g id="bA9_12"><rect x="2024" y="1472"/><text x="2114" y="1579">A<tspan> 9,12</tspan></text></g>
<g id="bA9_13"><rect x="2208" y="1472"/><text x="2298" y="1579">A<tspan> 9,13</tspan></text></g>
<g id="bA9_14"><rect x="2392" y="1472"/><text x="2482" y="1579">A<tspan> 9,14</tspan></text></g>
<g id="bA9_15"><rect x="2576" y="1472"/><text x="2666" y="1579">A<tspan> 9,15</tspan></text></g>
<g id="bA9_16"><rect x="2760" y="1472"/><text x="2850" y="1579">A<tspan> 9,16</tspan></text></g>
</g>
<g id="bottom-h1" transform="translate(368 368)">
<g class="B">
<g id="bB1_1"><rect x="184" y="0"/><text x="234" y="65">B<tspan> 1,1</tspan></text></g>
<g id="bB1_2"><rect x="276" y="0"/><text x="326" y="65">B<tspan> 1,2</tspan></text></g>
<g id="bB1_3"><rect x="368" y="0"/><text x="418" y="65">B<tspan> 1,3</tspan></text></g>
<g id="bB1_4"><rect x="460" y="0"/><text x="510" y="65">B<tspan> 1,4</tspan></text></g>
<g id="bB1_5"><rect x="552" y="0"/><text x="602" y="65">B<tspan> 1,5</tspan></text></g>
<g id="bB1_6"><rect x="644" y="0"/><text x="694" y="65">B<tspan> 1,6</tspan></text></g>
<g id="bB2_1"><rect x="184" y="92"/><text x="234" y="157">B<tspan> 2,1</tspan></text></g>
<g id="bB2_2"><rect x="276" y="92"/><text x="326" y="157">B<tspan> 2,2</tspan></text></g>
<g id="bB2_3"><rect x="368" y="92"/><text x="418" y="157">B<tspan> 2,3</tspan></text></g>
<g id="bB2_4"><rect x="460" y="92"/><text x="510" y="157">B<tspan> 2,4</tspan></text></g>
<g id="bB2_5"><rect x="552" y="92"/><text x="602" y="157">B<tspan> 2,5</tspan></text></g>
<g id="bB2_6"><rect x="644" y="92"/><text x="694" y="157">B<tspan> 2,6</tspan></text></g>
<g id="bB3_1"><rect x="0" y="184"/><text x="50" y="249">B<tspan> 3,1</tspan></text></g>
<g id="bB3_2"><rect x="92" y="184"/><text x="142" y="249">B<tspan> 3,2</tspan></text></g>
<g id="bB3_3"><rect x="184" y="184"/><text x="234" y="249">B<tspan> 3,3</tspan></text></g>
<g id="bB3_4"><rect x="644" y="184"/><text x="694" y="249">B<tspan> 3,4</tspan></text></g>
<g id="bB3_5"><rect x="736" y="184"/><text x="786" y="249">B<tspan> 3,5</tspan></text></g>
<g id="bB3_6"><rect x="828" y="184"/><text x="878" y="249">B<tspan> 3,6</tspan></text></g>
<g id="bB4_1"><rect x="0" y="276"/><text x="50" y="341">B<tspan> 4,1</tspan></text></g>
<g id="bB4_2"><rect x="92" y="276"/><text x="142" y="341">B<tspan> 4,2</tspan></text></g>
<g id="bB4_3"><rect x="736" y="276"/><text x="786" y="341">B<tspan> 4,3</tspan></text></g>
<g id="bB4_4"><rect x="828" y="276"/><text x="878" y="341">B<tspan> 4,4</tspan></text></g>
<g id="bB5_1"><rect x="0" y="368"/><text x="50" y="433">B<tspan> 5,1</tspan></text></g>
<g id="bB5_2"><rect x="92" y="368"/><text x="142" y="433">B<tspan> 5,2</tspan></text></g>
<g id="bB5_3"><rect x="736" y="368"/><text x="786" y="433">B<tspan> 5,3</tspan></text></g>
<g id="bB5_4"><rect x="828" y="368"/><text x="878" y="433">B<tspan> 5,4</tspan></text></g>
<g id="bB6_1"><rect x="0" y="460"/><text x="50" y="525">B<tspan> 6,1</tspan></text></g>
<g id="bB6_2"><rect x="92" y="460"/><text x="142" y="525">B<tspan> 6,2</tspan></text></g>
<g id="bB6_3"><rect x="736" y="460"/><text x="786" y="525">B<tspan> 6,3</tspan></text></g>
<g id="bB6_4"><rect x="828" y="460"/><text x="878" y="525">B<tspan> 6,4</tspan></text></g>
<g id="bB7_1"><rect x="0" y="552"/><text x="50" y="617">B<tspan> 7,1</tspan></text></g>
<g id="bB7_2"><rect x="92" y="552"/><text x="142" y="617">B<tspan> 7,2</tspan></text></g>
<g id="bB7_3"><rect x="736" y="552"/><text x="786" y="617">B<tspan> 7,3</tspan></text></g>
<g id="bB7_4"><rect x="828" y="552"/><text x="878" y="617">B<tspan> 7,4</tspan></text></g>
<g id="bB8_1"><rect x="0" y="644"/><text x="50" y="709">B<tspan> 8,1</tspan></text></g>
<g id="bB8_2"><rect x="92" y="644"/><text x="142" y="709">B<tspan> 8,2</tspan></text></g>
<g id="bB8_3"><rect x="184" y="644"/><text x="234" y="709">B<tspan> 8,3</tspan></text></g>
<g id="bB8_4"><rect x="644" y="644"/><text x="694" y="709">B<tspan> 8,4</tspan></text></g>
<g id="bB8_5"><rect x="736" y="644"/><text x="786" y="709">B<tspan> 8,5</tspan></text></g>
<g id="bB8_6"><rect x="828" y="644"/><text x="878" y="709">B<tspan> 8,6</tspan></text></g>
<g id="bB9_1"><rect x="184" y="736"/><text x="234" y="801">B<tspan> 9,1</tspan></text></g>
<g id="bB9_2"><rect x="276" y="736"/><text x="326" y="801">B<tspan> 9,2</tspan></text></g>
<g id="bB9_3"><rect x="368" y="736"/><text x="418" y="801">B<tspan> 9,3</tspan></text></g>
<g id="bB9_4"><rect x="460" y="736"/><text x="510" y="801">B<tspan> 9,4</tspan></text></g>
<g id="bB9_5"><rect x="552" y="736"/><text x="602" y="801">B<tspan> 9,5</tspan></text></g>
<g id="bB9_6"><rect x="644" y="736"/><text x="694" y="801">B<tspan> 9,6</tspan></text></g>
<g id="bB10_1"><rect x="184" y="828"/><text x="234" y="893">B<tspan> 10,1</tspan></text></g>
<g id="bB10_2"><rect x="276" y="828"/><text x="326" y="893">B<tspan> 10,2</tspan></text></g>
<g id="bB10_3"><rect x="368" y="828"/><text x="418" y="893">B<tspan> 10,3</tspan></text></g>
<g id="bB10_4"><rect x="460" y="828"/><text x="510" y="893">B<tspan> 10,4</tspan></text></g>
<g id="bB10_5"><rect x="552" y="828"/><text x="602" y="893">B<tspan> 10,5</tspan></text></g>
<g id="bB10_6"><rect x="644" y="828"/><text x="694" y="893">B<tspan> 10,6</tspan></text></g>
</g>
<g class="C">
<g id="bC1_1"><rect x="276" y="184"/><text x="302" y="218">C<tspan>1,1</tspan></text></g>
<g id="bC1_2"><rect x="322" y="184"/><text x="348" y="218">C<tspan>1,2</tspan></text></g>
<g id="bC1_3"><rect x="368" y="184"/><text x="394" y="218">C<tspan>1,3</tspan></text></g>
<g id="bC1_4"><rect x="414" y="184"/><text x="440" y="218">C<tspan>1,4</tspan></text></g>
<g id="bC1_5"><rect x="460" y="184"/><text x="486" y="218">C<tspan>1,5</tspan></text></g>
<g id="bC1_6"><rect x="506" y="184"/><text x="532" y="218">C<tspan>1,6</tspan></text></g>
<g id="bC1_7"><rect x="552" y="184"/><text x="578" y="218">C<tspan>1,7</tspan></text></g>
<g id="bC1_8"><rect x="598" y="184"/><text x="624" y="218">C<tspan>1,8</tspan></text></g>
<g id="bC2_1"><rect x="276" y="230"/><text x="302" y="264">C<tspan>2,1</tspan></text></g>
<g id="bC2_2"><rect x="598" y="230"/><text x="624" y="264">C<tspan>2,2</tspan></text></g>
<g id="bC3_1"><rect x="184" y="276"/><text x="210" y="310">C<tspan>3,1</tspan></text></g>
<g id="bC3_2"><rect x="230" y="276"/><text x="256" y="310">C<tspan>3,2</tspan></text></g>
<g id="bC3_3"><rect x="644" y="276"/><text x="670" y="310">C<tspan>3,3</tspan></text></g>
<g id="bC3_4"><rect x="690" y="276"/><text x="716" y="310">C<tspan>3,4</tspan></text></g>
<g id="bC4_1"><rect x="184" y="322"/><text x="210" y="356">C<tspan>4,1</tspan></text></g>
<g id="bC4_2"><rect x="690" y="322"/><text x="716" y="356">C<tspan>4,2</tspan></text></g>
<g id="bC5_1"><rect x="184" y="368"/><text x="210" y="402">C<tspan>5,1</tspan></text></g>
<g id="bC5_2"><rect x="690" y="368"/><text x="716" y="402">C<tspan>5,2</tspan></text></g>
<g id="bC6_1"><rect x="184" y="414"/><text x="210" y="448">C<tspan>6,1</tspan></text></g>
<g id="bC6_2"><rect x="690" y="414"/><text x="716" y="448">C<tspan>6,2</tspan></text></g>
<g id="bC7_1"><rect x="184" y="460"/><text x="210" y="494">C<tspan>7,1</tspan></text></g>
<g id="bC7_2"><rect x="690" y="460"/><text x="716" y="494">C<tspan>7,2</tspan></text></g>
<g id="bC8_1"><rect x="184" y="506"/><text x="210" y="540">C<tspan>8,1</tspan></text></g>
<g id="bC8_2"><rect x="690" y="506"/><text x="716" y="540">C<tspan>8,2</tspan></text></g>
<g id="bC9_1"><rect x="184" y="552"/><text x="210" y="586">C<tspan>9,1</tspan></text></g>
<g id="bC9_2"><rect x="690" y="552"/><text x="716" y="586">C<tspan>9,2</tspan></text></g>
<g id="bC10_1"><rect x="184" y="598"/><text x="210" y="632">C<tspan>10,1</tspan></text></g>
<g id="bC10_2"><rect x="230" y="598"/><text x="256" y="632">C<tspan>10,2</tspan></text></g>
<g id="bC10_3"><rect x="644" y="598"/><text x="670" y="632">C<tspan>10,3</tspan></text></g>
<g id="bC10_4"><rect x="690" y="598"/><text x="716" y="632">C<tspan>10,4</tspan></text></g>
<g id="bC11_1"><rect x="276" y="644"/><text x="302" y="678">C<tspan>11,1</tspan></text></g>
<g id="bC11_2"><rect x="598" y="644"/><text x="624" y="678">C<tspan>11,2</tspan></text></g>
<g id="bC12_1"><rect x="276" y="690"/><text x="302" y="724">C<tspan>12,1</tspan></text></g>
<g id="bC12_2"><rect x="322" y="690"/><text x="348" y="724">C<tspan>12,2</tspan></text></g>
<g id="bC12_3"><rect x="368" y="690"/><text x="394" y="724">C<tspan>12,3</tspan></text></g>
<g id="bC12_4"><rect x="414" y="690"/><text x="440" y="724">C<tspan>12,4</tspan></text></g>
<g id="bC12_5"><rect x="460" y="690"/><text x="486" y="724">C<tspan>12,5</tspan></text></g>
<g id="bC12_6"><rect x="506" y="690"/><text x="532" y="724">C<tspan>12,6</tspan></text></g>
<g id="bC12_7"><rect x="552" y="690"/><text x="578" y="724">C<tspan>12,7</tspan></text></g>
<g id="bC12_8"><rect x="598" y="690"/><text x="624" y="724">C<tspan>12,8</tspan></text></g>
</g>
</g>
<g id="bottom-h2" transform="translate(1656 368)">
<g class="B">
<g id="bB1_7"><rect x="184" y="0"/><text x="234" y="65">B<tspan> 1,7</tspan></text></g>
<g id="bB1_8"><rect x="276" y="0"/><text x="326" y="65">B<tspan> 1,8</tspan></text></g>
<g id="bB1_9"><rect x="368" y="0"/><text x="418" y="65">B<tspan> 1,9</tspan></text></g>
<g id="bB1_10"><rect x="460" y="0"/><text x="510" y="65">B<tspan> 1,10</tspan></text></g>
<g id="bB1_11"><rect x="552" y="0"/><text x="602" y="65">B<tspan> 1,11</tspan></text></g>
<g id="bB1_12"><rect x="644" y="0"/><text x="694" y="65">B<tspan> 1,12</tspan></text></g>
<g id="bB2_7"><rect x="184" y="92"/><text x="234" y="157">B<tspan> 2,7</tspan></text></g>
<g id="bB2_8"><rect x="276" y="92"/><text x="326" y="157">B<tspan> 2,8</tspan></text></g>
<g id="bB2_9"><rect x="368" y="92"/><text x="418" y="157">B<tspan> 2,9</tspan></text></g>
<g id="bB2_10"><rect x="460" y="92"/><text x="510" y="157">B<tspan> 2,10</tspan></text></g>
<g id="bB2_11"><rect x="552" y="92"/><text x="602" y="157">B<tspan> 2,11</tspan></text></g>
<g id="bB2_12"><rect x="644" y="92"/><text x="694" y="157">B<tspan> 2,12</tspan></text></g>
<g id="bB3_7"><rect x="0" y="184"/><text x="50" y="249">B<tspan> 3,7</tspan></text></g>
<g id="bB3_8"><rect x="92" y="184"/><text x="142" y="249">B<tspan> 3,8</tspan></text></g>
<g id="bB3_9"><rect x="184" y="184"/><text x="234" y="249">B<tspan> 3,9</tspan></text></g>
<g id="bB3_10"><rect x="644" y="184"/><text x="694" y="249">B<tspan> 3,10</tspan></text></g>
<g id="bB3_11"><rect x="736" y="184"/><text x="786" y="249">B<tspan> 3,11</tspan></text></g>
<g id="bB3_12"><rect x="828" y="184"/><text x="878" y="249">B<tspan> 3,12</tspan></text></g>
<g id="bB4_5"><rect x="0" y="276"/><text x="50" y="341">B<tspan> 4,5</tspan></text></g>
<g id="bB4_6"><rect x="92" y="276"/><text x="142" y="341">B<tspan> 4,6</tspan></text></g>
<g id="bB4_7"><rect x="736" y="276"/><text x="786" y="341">B<tspan> 4,7</tspan></text></g>
<g id="bB4_8"><rect x="828" y="276"/><text x="878" y="341">B<tspan> 4,8</tspan></text></g>
<g id="bB5_5"><rect x="0" y="368"/><text x="50" y="433">B<tspan> 5,5</tspan></text></g>
<g id="bB5_6"><rect x="92" y="368"/><text x="142" y="433">B<tspan> 5,6</tspan></text></g>
<g id="bB5_7"><rect x="736" y="368"/><text x="786" y="433">B<tspan> 5,7</tspan></text></g>
<g id="bB5_8"><rect x="828" y="368"/><text x="878" y="433">B<tspan> 5,8</tspan></text></g>
<g id="bB6_5"><rect x="0" y="460"/><text x="50" y="525">B<tspan> 6,5</tspan></text></g>
<g id="bB6_6"><rect x="92" y="460"/><text x="142" y="525">B<tspan> 6,6</tspan></text></g>
<g id="bB6_7"><rect x="736" y="460"/><text x="786" y="525">B<tspan> 6,7</tspan></text></g>
<g id="bB6_8"><rect x="828" y="460"/><text x="878" y="525">B<tspan> 6,8</tspan></text></g>
<g id="bB7_5"><rect x="0" y="552"/><text x="50" y="617">B<tspan> 7,5</tspan></text></g>
<g id="bB7_6"><rect x="92" y="552"/><text x="142" y="617">B<tspan> 7,6</tspan></text></g>
<g id="bB7_7"><rect x="736" y="552"/><text x="786" y="617">B<tspan> 7,7</tspan></text></g>
<g id="bB7_8"><rect x="828" y="552"/><text x="878" y="617">B<tspan> 7,8</tspan></text></g>
<g id="bB8_7"><rect x="0" y="644"/><text x="50" y="709">B<tspan> 8,7</tspan></text></g>
<g id="bB8_8"><rect x="92" y="644"/><text x="142" y="709">B<tspan> 8,8</tspan></text></g>
<g id="bB8_9"><rect x="184" y="644"/><text x="234" y="709">B<tspan> 8,9</tspan></text></g>
<g id="bB8_10"><rect x="644" y="644"/><text x="694" y="709">B<tspan> 8,10</tspan></text></g>
<g id="bB8_11"><rect x="736" y="644"/><text x="786" y="709">B<tspan> 8,11</tspan></text></g>
<g id="bB8_12"><rect x="828" y="644"/><text x="878" y="709">B<tspan> 8,12</tspan></text></g>
<g id="bB9_7"><rect x="184" y="736"/><text x="234" y="801">B<tspan> 9,7</tspan></text></g>
<g id="bB9_8"><rect x="276" y="736"/><text x="326" y="801">B<tspan> 9,8</tspan></text></g>
<g id="bB9_9"><rect x="368" y="736"/><text x="418" y="801">B<tspan> 9,9</tspan></text></g>
<g id="bB9_10"><rect x="460" y="736"/><text x="510" y="801">B<tspan> 9,10</tspan></text></g>
<g id="bB9_11"><rect x="552" y="736"/><text x="602" y="801">B<tspan> 9,11</tspan></text></g>
<g id="bB9_12"><rect x="644" y="736"/><text x="694" y="801">B<tspan> 9,12</tspan></text></g>
<g id="bB10_7"><rect x="184" y="828"/><text x="234" y="893">B<tspan> 10,7</tspan></text></g>
<g id="bB10_8"><rect x="276" y="828"/><text x="326" y="893">B<tspan> 10,8</tspan></text></g>
<g id="bB10_9"><rect x="368" y="828"/><text x="418" y="893">B<tspan> 10,9</tspan></text></g>
<g id="bB10_10"><rect x="460" y="828"/><text x="510" y="893">B<tspan class="l"> 10,10</tspan></text></g>
<g id="bB10_11"><rect x="552" y="828"/><text x="602" y="893">B<tspan class="l"> 10,11</tspan></text></g>
<g id="bB10_12"><rect x="644" y="828"/><text x="694" y="893">B<tspan class="l"> 10,12</tspan></text></g>
</g>
<g class="C">
<g id="bC1_9"><rect x="276" y="184"/><text x="302" y="218">C<tspan>1,9</tspan></text></g>
<g id="bC1_10"><rect x="322" y="184"/><text x="348" y="218">C<tspan>1,10</tspan></text></g>
<g id="bC1_11"><rect x="368" y="184"/><text x="394" y="218">C<tspan>1,11</tspan></text></g>
<g id="bC1_12"><rect x="414" y="184"/><text x="440" y="218">C<tspan>1,12</tspan></text></g>
<g id="bC1_13"><rect x="460" y="184"/><text x="486" y="218">C<tspan>1,13</tspan></text></g>
<g id="bC1_14"><rect x="506" y="184"/><text x="532" y="218">C<tspan>1,14</tspan></text></g>
<g id="bC1_15"><rect x="552" y="184"/><text x="578" y="218">C<tspan>1,15</tspan></text></g>
<g id="bC1_16"><rect x="598" y="184"/><text x="624" y="218">C<tspan>1,16</tspan></text></g>
<g id="bC2_3"><rect x="276" y="230"/><text x="302" y="264">C<tspan>2,3</tspan></text></g>
<g id="bC2_4"><rect x="598" y="230"/><text x="624" y="264">C<tspan>2,4</tspan></text></g>
<g id="bC3_5"><rect x="184" y="276"/><text x="210" y="310">C<tspan>3,5</tspan></text></g>
<g id="bC3_6"><rect x="230" y="276"/><text x="256" y="310">C<tspan>3,6</tspan></text></g>
<g id="bC3_7"><rect x="644" y="276"/><text x="670" y="310">C<tspan>3,7</tspan></text></g>
<g id="bC3_8"><rect x="690" y="276"/><text x="716" y="310">C<tspan>3,8</tspan></text></g>
<g id="bC4_3"><rect x="184" y="322"/><text x="210" y="356">C<tspan>4,3</tspan></text></g>
<g id="bC4_4"><rect x="690" y="322"/><text x="716" y="356">C<tspan>4,4</tspan></text></g>
<g id="bC5_3"><rect x="184" y="368"/><text x="210" y="402">C<tspan>5,3</tspan></text></g>
<g id="bC5_4"><rect x="690" y="368"/><text x="716" y="402">C<tspan>5,4</tspan></text></g>
<g id="bC6_3"><rect x="184" y="414"/><text x="210" y="448">C<tspan>6,3</tspan></text></g>
<g id="bC6_4"><rect x="690" y="414"/><text x="716" y="448">C<tspan>6,4</tspan></text></g>
<g id="bC7_3"><rect x="184" y="460"/><text x="210" y="494">C<tspan>7,3</tspan></text></g>
<g id="bC7_4"><rect x="690" y="460"/><text x="716" y="494">C<tspan>7,4</tspan></text></g>
<g id="bC8_3"><rect x="184" y="506"/><text x="210" y="540">C<tspan>8,3</tspan></text></g>
<g id="bC8_4"><rect x="690" y="506"/><text x="716" y="540">C<tspan>8,4</tspan></text></g>
<g id="bC9_3"><rect x="184" y="552"/><text x="210" y="586">C<tspan>9,3</tspan></text></g>
<g id="bC9_4"><rect x="690" y="552"/><text x="716" y="586">C<tspan>9,4</tspan></text></g>
<g id="bC10_5"><rect x="184" y="598"/><text x="210" y="632">C<tspan>10,5</tspan></text></g>
<g id="bC10_6"><rect x="230" y="598"/><text x="256" y="632">C<tspan>10,6</tspan></text></g>
<g id="bC10_7"><rect x="644" y="598"/><text x="670" y="632">C<tspan>10,7</tspan></text></g>
<g id="bC10_8"><rect x="690" y="598"/><text x="716" y="632">C<tspan>10,8</tspan></text></g>
<g id="bC11_3"><rect x="276" y="644"/><text x="302" y="678">C<tspan>11,3</tspan></text></g>
<g id="bC11_4"><rect x="598" y="644"/><text x="624" y="678">C<tspan>11,4</tspan></text></g>
<g id="bC12_9"><rect x="276" y="690"/><text x="302" y="724">C<tspan>12,9</tspan></text></g>
<g id="bC12_10"><rect x="322" y="690"/><text x="348" y="724">C<tspan>12,10</tspan></text></g>
<g id="bC12_11"><rect x="368" y="690"/><text x="394" y="724">C<tspan>12,11</tspan></text></g>
<g id="bC12_12"><rect x="414" y="690"/><text x="440" y="724">C<tspan>12,12</tspan></text></g>
<g id="bC12_13"><rect x="460" y="690"/><text x="486" y="724">C<tspan>12,13</tspan></text></g>
<g id="bC12_14"><rect x="506" y="690"/><text x="532" y="724">C<tspan>12,14</tspan></text></g>
<g id="bC12_15"><rect x="552" y="690"/><text x="578" y="724">C<tspan>12,15</tspan></text></g>
<g id="bC12_16"><rect x="598" y="690"/><text x="624" y="724">C<tspan>12,16</tspan></text></g>
</g>
</g>
</g>

<g id="connectors">
<path id="arrow" d="M1488 1790 A13 13 0 0 1 1514 1790 V1977 H1533 L1501 2006 L1468 1977 H1488 Z" fill="#0070c0" stroke="#0d1a40" stroke-width="2.5" stroke-linejoin="miter"/>
</g>
<g id="dividers">
<line class="dash" x1="766.2" y1="2082" x2="766.2" y2="4122"/>
<line class="dash" x1="1501.4" y1="2082" x2="1501.4" y2="4122"/>
<line class="dash" x1="2236.6" y1="2082" x2="2236.6" y2="4122"/>
</g>
<g id="legend" class="pill">
<g id="process0"><rect x="139" y="4047" width="497" height="120" rx="52" ry="60" fill="#ff968a"/><text x="388" y="4132">Process0</text></g>
<g id="process1"><rect x="904" y="4047" width="501" height="120" rx="52" ry="60" fill="#fadd2e"/><text x="1155" y="4132">Process1</text></g>
<g id="process2"><rect x="1643" y="4047" width="499" height="120" rx="52" ry="60" fill="#d5a3f7"/><text x="1892" y="4132">Process2</text></g>
<g id="process3"><rect x="2376" y="4047" width="499" height="120" rx="52" ry="60" fill="#5ee2fb"/><text x="2625" y="4132">Process3</text></g>
</g>
</svg>
